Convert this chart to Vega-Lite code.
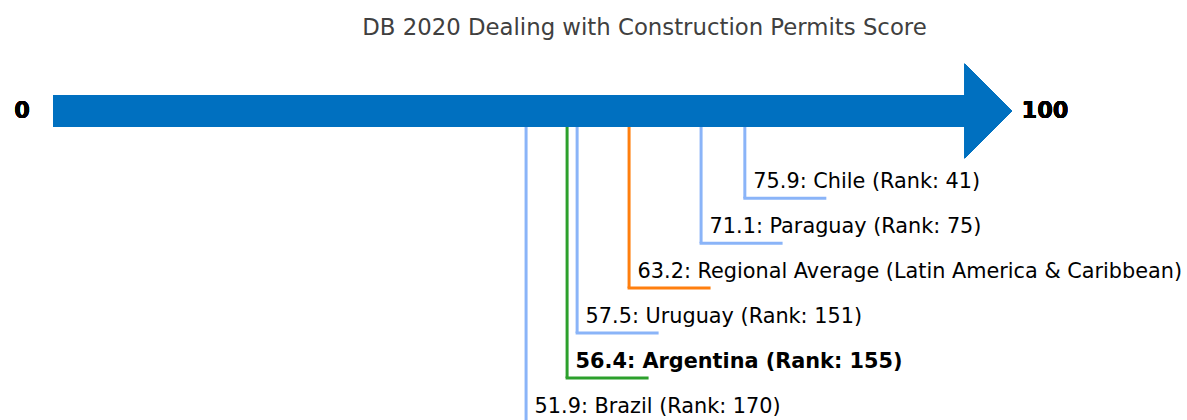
{
  "$schema": "https://vega.github.io/schema/vega-lite/v6.json",
  "width": 1187,
  "height": 420,
  "autosize": "none",
  "padding": 0,
  "background": "white",
  "config": {"view": {"stroke": null}, "font": "DejaVu Sans"},
  "title": {
    "text": "DB 2020 Dealing with Construction Permits Score",
    "font": "DejaVu Sans",
    "fontSize": 22.8,
    "fontWeight": "normal",
    "color": "#404040",
    "anchor": "middle",
    "offset": 0,
    "baseline": "middle",
    "dx": 51,
    "dy": 51
  },
  "data": {
    "values": [
      {"label": "75.9: Chile (Rank: 41)", "score": 75.9, "level": 1, "kind": "peer"},
      {"label": "71.1: Paraguay (Rank: 75)", "score": 71.1, "level": 2, "kind": "peer"},
      {"label": "63.2: Regional Average (Latin America & Caribbean)", "score": 63.2, "level": 3, "kind": "regional"},
      {"label": "57.5: Uruguay (Rank: 151)", "score": 57.5, "level": 4, "kind": "peer"},
      {"label": "56.4: Argentina (Rank: 155)", "score": 56.4, "level": 5, "kind": "focus"},
      {"label": "51.9: Brazil (Rank: 170)", "score": 51.9, "level": 6, "kind": "peer"}
    ]
  },
  "encoding": {
    "x": {"field": "score", "type": "quantitative", "axis": null,
          "scale": {"domain": [-5.815, 124.41], "nice": false, "zero": false}},
    "y": {"field": "level", "type": "quantitative", "axis": null,
          "scale": {"domain": [-3.4165, 5.938], "nice": false, "zero": false, "reverse": true}}
  },
  "layer": [
    {
      "mark": {"type": "rule", "strokeWidth": 3, "strokeCap": "butt"},
      "encoding": {
        "y": {"datum": -0.944, "type": "quantitative"},
        "y2": {"field": "level"},
        "color": {"field": "kind", "type": "nominal", "legend": null,
                  "scale": {"domain": ["peer", "regional", "focus"], "range": ["#8ab4f8", "#ff7f0e", "#2ca02c"]}}
      }
    },
    {
      "mark": {"type": "rule", "strokeWidth": 3, "strokeCap": "square", "x2Offset": 80},
      "encoding": {
        "x2": {"field": "score"},
        "color": {"field": "kind", "type": "nominal", "legend": null}
      }
    },
    {
      "transform": [{"filter": "datum.kind !== 'focus'"}],
      "mark": {"type": "text", "align": "left", "baseline": "alphabetic", "dx": 8.5, "dy": -10, "fontSize": 20.8, "font": "DejaVu Sans", "fontWeight": "normal", "color": "#000000"},
      "encoding": {
        "text": {"field": "label"}
      }
    },
    {
      "transform": [{"filter": "datum.kind === 'focus'"}],
      "mark": {"type": "text", "align": "left", "baseline": "alphabetic", "dx": 8.5, "dy": -10, "fontSize": 20.8, "font": "DejaVu Sans", "fontWeight": "bold", "color": "#000000"},
      "encoding": {
        "text": {"field": "label"}
      }
    },
    {
      "mark": {"type": "rule", "strokeWidth": 32, "strokeCap": "butt", "color": "#0070c0"},
      "encoding": {
        "x": {"datum": 0, "type": "quantitative"},
        "x2": {"datum": 100},
        "y": {"datum": -0.944, "type": "quantitative"}
      }
    },
    {
      "mark": {"type": "point", "shape": "M0,-1L1,0L0,1Z", "size": 9025, "filled": true, "opacity": 1, "color": "#0070c0", "strokeWidth": 0},
      "encoding": {
        "x": {"datum": 100, "type": "quantitative"},
        "y": {"datum": -0.944, "type": "quantitative"}
      }
    },
    {
      "mark": {"type": "text", "text": "0", "align": "right", "baseline": "middle", "dx": -23, "fontSize": 22.5, "fontWeight": "bold", "font": "DejaVu Sans", "color": "#000000"},
      "encoding": {
        "x": {"datum": 0, "type": "quantitative"},
        "y": {"datum": -0.944, "type": "quantitative"}
      }
    },
    {
      "mark": {"type": "text", "text": "100", "align": "left", "baseline": "middle", "dx": 57, "fontSize": 22.5, "fontWeight": "bold", "font": "DejaVu Sans", "color": "#000000"},
      "encoding": {
        "x": {"datum": 100, "type": "quantitative"},
        "y": {"datum": -0.944, "type": "quantitative"}
      }
    }
  ]
}
